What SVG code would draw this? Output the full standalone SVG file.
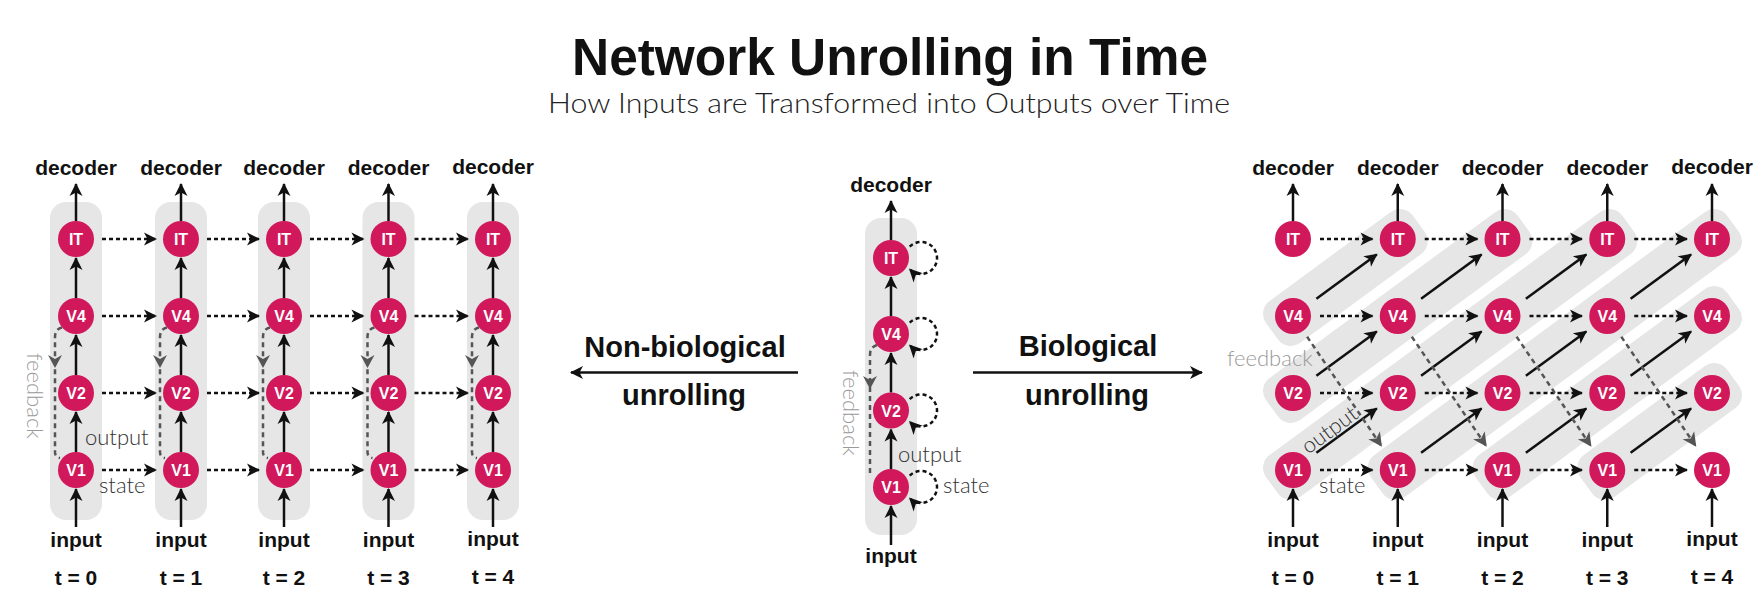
<svg xmlns="http://www.w3.org/2000/svg" width="1762" height="602" viewBox="0 0 1762 602">
<defs>
<style>
.b{font-family:"Liberation Sans",Arial,sans-serif;font-weight:700;fill:#111;text-anchor:middle}
.io{font-size:21px}
.big{font-size:29px}
.title{font-size:51px}
.sub{font-family:Lato,"Liberation Sans",sans-serif;font-weight:300;font-size:28px;fill:#222;text-anchor:middle}
.lt{font-family:Lato,"Liberation Sans",sans-serif;font-weight:300;font-size:22px;fill:#333}
.fbt{fill:#999}
.node circle{fill:#D0185B}
.node text{font-family:"Liberation Sans",Arial,sans-serif;font-weight:700;font-size:16px;fill:#fff;text-anchor:middle}
.band{fill:#E6E6E6}
.s{stroke:#111;stroke-width:2.5;fill:none;marker-end:url(#ah)}
.d{stroke:#111;stroke-width:2.5;fill:none;stroke-dasharray:4 3;marker-end:url(#ah)}
.fb{stroke:#555;stroke-width:2.5;fill:none;stroke-dasharray:5 4}
.fbm{marker-end:url(#ahg)}
</style>
<marker id="ah" viewBox="-14 -8 16 16" refX="0" refY="0" markerWidth="16" markerHeight="16" markerUnits="userSpaceOnUse" orient="auto">
<path d="M1,0 L-12,-6.5 L-8.5,0 L-12,6.5 Z" fill="#111"/>
</marker>
<marker id="ahg" viewBox="-15 -9 17 18" refX="0" refY="0" markerWidth="17" markerHeight="18" markerUnits="userSpaceOnUse" orient="auto">
<path d="M1,0 L-13,-7 L-9,0 L-13,7 Z" fill="#555"/>
</marker>
<path id="fbh" d="M0,0 L-7,-13 L0,-9 L7,-13 Z" fill="#555"/>
</defs>
<rect width="1762" height="602" fill="#fff"/>

<g id="title">
<text class="b title" x="890" y="75" textLength="636" lengthAdjust="spacingAndGlyphs">Network Unrolling in Time</text>
<text class="sub" x="889" y="113" textLength="682" lengthAdjust="spacingAndGlyphs">How Inputs are Transformed into Outputs over Time</text>
</g>

<g id="backgrounds">
<rect class="band" x="50" y="202" width="52" height="318" rx="16"/>
<rect class="band" x="155" y="202" width="52" height="318" rx="16"/>
<rect class="band" x="258" y="202" width="52" height="318" rx="16"/>
<rect class="band" x="362.5" y="202" width="52" height="318" rx="16"/>
<rect class="band" x="467" y="202" width="52" height="318" rx="16"/>
<rect class="band" x="865" y="218" width="52" height="317" rx="16"/>
<rect class="band" transform="translate(1293 316) rotate(-36.32)" x="-26" y="-26" width="182" height="52" rx="16"/>
<rect class="band" transform="translate(1293 393) rotate(-36.32)" x="-26" y="-26" width="312" height="52" rx="16"/>
<rect class="band" transform="translate(1293 470) rotate(-36.32)" x="-26" y="-26" width="442" height="52" rx="16"/>
<rect class="band" transform="translate(1397.75 470) rotate(-36.32)" x="-26" y="-26" width="442" height="52" rx="16"/>
<rect class="band" transform="translate(1502.5 470) rotate(-36.32)" x="-26" y="-26" width="312" height="52" rx="16"/>
<rect class="band" transform="translate(1607.25 470) rotate(-36.32)" x="-26" y="-26" width="182" height="52" rx="16"/>
</g>

<g id="connectors">
<path class="s" d="M76 452V412"/><path class="s" d="M76 375V335"/><path class="s" d="M76 298V258"/><path class="s" d="M76 221V184"/><path class="s" d="M76 527V489"/>
<path class="s" d="M181 452V412"/><path class="s" d="M181 375V335"/><path class="s" d="M181 298V258"/><path class="s" d="M181 221V184"/><path class="s" d="M181 527V489"/>
<path class="s" d="M284 452V412"/><path class="s" d="M284 375V335"/><path class="s" d="M284 298V258"/><path class="s" d="M284 221V184"/><path class="s" d="M284 527V489"/>
<path class="s" d="M388.5 452V412"/><path class="s" d="M388.5 375V335"/><path class="s" d="M388.5 298V258"/><path class="s" d="M388.5 221V184"/><path class="s" d="M388.5 527V489"/>
<path class="s" d="M493 452V412"/><path class="s" d="M493 375V335"/><path class="s" d="M493 298V258"/><path class="s" d="M493 221V184"/><path class="s" d="M493 527V489"/>
<path class="d" d="M102 239H156"/><path class="d" d="M207 239H259"/><path class="d" d="M310 239H363.5"/><path class="d" d="M414.5 239H468"/>
<path class="d" d="M102 316H156"/><path class="d" d="M207 316H259"/><path class="d" d="M310 316H363.5"/><path class="d" d="M414.5 316H468"/>
<path class="d" d="M102 393H156"/><path class="d" d="M207 393H259"/><path class="d" d="M310 393H363.5"/><path class="d" d="M414.5 393H468"/>
<path class="d" d="M102 470H156"/><path class="d" d="M207 470H259"/><path class="d" d="M310 470H363.5"/><path class="d" d="M414.5 470H468"/>
<path class="fb" d="M62 327.5Q55 329 55 337V452Q55 457 60 458"/><use href="#fbh" x="55" y="368"/>
<path class="fb" d="M167 327.5Q160 329 160 337V452Q160 457 165 458"/><use href="#fbh" x="160" y="368"/>
<path class="fb" d="M270 327.5Q263 329 263 337V452Q263 457 268 458"/><use href="#fbh" x="263" y="368"/>
<path class="fb" d="M374.5 327.5Q367.5 329 367.5 337V452Q367.5 457 372.5 458"/><use href="#fbh" x="367.5" y="368"/>
<path class="fb" d="M479 327.5Q472 329 472 337V452Q472 457 477 458"/><use href="#fbh" x="472" y="368"/>

<path class="s" d="M891 545V506"/><path class="s" d="M891 469V429.5"/><path class="s" d="M891 392.5V353"/><path class="s" d="M891 316V277"/><path class="s" d="M891 240V201"/>
<path class="d" d="M909.7 246.7A16 16 0 1 1 909.7 269.3"/>
<path class="d" d="M909.7 322.7A16 16 0 1 1 909.7 345.3"/>
<path class="d" d="M909.7 399.2A16 16 0 1 1 909.7 421.8"/>
<path class="d" d="M909.7 475.7A16 16 0 1 1 909.7 498.3"/>
<path class="fb" d="M877 345Q870 347 870 355V476"/><use href="#fbh" x="870" y="389"/>

<path class="s" d="M798 372.5H571"/>
<path class="s" d="M973 372.5H1202"/>

<path class="s" d="M1293 527V489"/><path class="s" d="M1293 221V184"/>
<path class="s" d="M1397.75 527V489"/><path class="s" d="M1397.75 221V184"/>
<path class="s" d="M1502.5 527V489"/><path class="s" d="M1502.5 221V184"/>
<path class="s" d="M1607.25 527V489"/><path class="s" d="M1607.25 221V184"/>
<path class="s" d="M1712 527V489"/><path class="s" d="M1712 221V184"/>
<path class="d" d="M1320 239H1372.5"/><path class="d" d="M1424.75 239H1477.5"/><path class="d" d="M1529.5 239H1582"/><path class="d" d="M1634.25 239H1687"/>
<path class="d" d="M1320 316H1372.5"/><path class="d" d="M1424.75 316H1477.5"/><path class="d" d="M1529.5 316H1582"/><path class="d" d="M1634.25 316H1687"/>
<path class="d" d="M1320 393H1372.5"/><path class="d" d="M1424.75 393H1477.5"/><path class="d" d="M1529.5 393H1582"/><path class="d" d="M1634.25 393H1687"/>
<path class="d" d="M1320 470H1372.5"/><path class="d" d="M1424.75 470H1477.5"/><path class="d" d="M1529.5 470H1582"/><path class="d" d="M1634.25 470H1687"/>
<path class="s" d="M1316.4 452.8L1376.8 408.4"/><path class="s" d="M1316.4 375.8L1376.8 331.4"/><path class="s" d="M1316.4 298.8L1376.8 254.4"/>
<path class="s" d="M1421.1 452.8L1481.6 408.4"/><path class="s" d="M1421.1 375.8L1481.6 331.4"/><path class="s" d="M1421.1 298.8L1481.6 254.4"/>
<path class="s" d="M1525.9 452.8L1586.3 408.4"/><path class="s" d="M1525.9 375.8L1586.3 331.4"/><path class="s" d="M1525.9 298.8L1586.3 254.4"/>
<path class="s" d="M1630.6 452.8L1691.1 408.4"/><path class="s" d="M1630.6 375.8L1691.1 331.4"/><path class="s" d="M1630.6 298.8L1691.1 254.4"/>
<path class="fb fbm" d="M1307.1 336.7L1381.4 446"/>
<path class="fb fbm" d="M1411.8 336.7L1486.2 446"/>
<path class="fb fbm" d="M1516.6 336.7L1590.9 446"/>
<path class="fb fbm" d="M1621.3 336.7L1695.7 446"/>
</g>

<g id="L0-IT" class="node"><circle cx="76" cy="239" r="18"/><text x="76" y="245">IT</text></g>
<g id="L0-V4" class="node"><circle cx="76" cy="316" r="18"/><text x="76" y="322">V4</text></g>
<g id="L0-V2" class="node"><circle cx="76" cy="393" r="18"/><text x="76" y="399">V2</text></g>
<g id="L0-V1" class="node"><circle cx="76" cy="470" r="18"/><text x="76" y="476">V1</text></g>
<g id="L1-IT" class="node"><circle cx="181" cy="239" r="18"/><text x="181" y="245">IT</text></g>
<g id="L1-V4" class="node"><circle cx="181" cy="316" r="18"/><text x="181" y="322">V4</text></g>
<g id="L1-V2" class="node"><circle cx="181" cy="393" r="18"/><text x="181" y="399">V2</text></g>
<g id="L1-V1" class="node"><circle cx="181" cy="470" r="18"/><text x="181" y="476">V1</text></g>
<g id="L2-IT" class="node"><circle cx="284" cy="239" r="18"/><text x="284" y="245">IT</text></g>
<g id="L2-V4" class="node"><circle cx="284" cy="316" r="18"/><text x="284" y="322">V4</text></g>
<g id="L2-V2" class="node"><circle cx="284" cy="393" r="18"/><text x="284" y="399">V2</text></g>
<g id="L2-V1" class="node"><circle cx="284" cy="470" r="18"/><text x="284" y="476">V1</text></g>
<g id="L3-IT" class="node"><circle cx="388.5" cy="239" r="18"/><text x="388.5" y="245">IT</text></g>
<g id="L3-V4" class="node"><circle cx="388.5" cy="316" r="18"/><text x="388.5" y="322">V4</text></g>
<g id="L3-V2" class="node"><circle cx="388.5" cy="393" r="18"/><text x="388.5" y="399">V2</text></g>
<g id="L3-V1" class="node"><circle cx="388.5" cy="470" r="18"/><text x="388.5" y="476">V1</text></g>
<g id="L4-IT" class="node"><circle cx="493" cy="239" r="18"/><text x="493" y="245">IT</text></g>
<g id="L4-V4" class="node"><circle cx="493" cy="316" r="18"/><text x="493" y="322">V4</text></g>
<g id="L4-V2" class="node"><circle cx="493" cy="393" r="18"/><text x="493" y="399">V2</text></g>
<g id="L4-V1" class="node"><circle cx="493" cy="470" r="18"/><text x="493" y="476">V1</text></g>

<g id="C-IT" class="node"><circle cx="891" cy="258" r="18"/><text x="891" y="264">IT</text></g>
<g id="C-V4" class="node"><circle cx="891" cy="334" r="18"/><text x="891" y="340">V4</text></g>
<g id="C-V2" class="node"><circle cx="891" cy="410.5" r="18"/><text x="891" y="416.5">V2</text></g>
<g id="C-V1" class="node"><circle cx="891" cy="487" r="18"/><text x="891" y="493">V1</text></g>

<g id="R0-IT" class="node"><circle cx="1293" cy="239" r="18"/><text x="1293" y="245">IT</text></g>
<g id="R0-V4" class="node"><circle cx="1293" cy="316" r="18"/><text x="1293" y="322">V4</text></g>
<g id="R0-V2" class="node"><circle cx="1293" cy="393" r="18"/><text x="1293" y="399">V2</text></g>
<g id="R0-V1" class="node"><circle cx="1293" cy="470" r="18"/><text x="1293" y="476">V1</text></g>
<g id="R1-IT" class="node"><circle cx="1397.75" cy="239" r="18"/><text x="1397.75" y="245">IT</text></g>
<g id="R1-V4" class="node"><circle cx="1397.75" cy="316" r="18"/><text x="1397.75" y="322">V4</text></g>
<g id="R1-V2" class="node"><circle cx="1397.75" cy="393" r="18"/><text x="1397.75" y="399">V2</text></g>
<g id="R1-V1" class="node"><circle cx="1397.75" cy="470" r="18"/><text x="1397.75" y="476">V1</text></g>
<g id="R2-IT" class="node"><circle cx="1502.5" cy="239" r="18"/><text x="1502.5" y="245">IT</text></g>
<g id="R2-V4" class="node"><circle cx="1502.5" cy="316" r="18"/><text x="1502.5" y="322">V4</text></g>
<g id="R2-V2" class="node"><circle cx="1502.5" cy="393" r="18"/><text x="1502.5" y="399">V2</text></g>
<g id="R2-V1" class="node"><circle cx="1502.5" cy="470" r="18"/><text x="1502.5" y="476">V1</text></g>
<g id="R3-IT" class="node"><circle cx="1607.25" cy="239" r="18"/><text x="1607.25" y="245">IT</text></g>
<g id="R3-V4" class="node"><circle cx="1607.25" cy="316" r="18"/><text x="1607.25" y="322">V4</text></g>
<g id="R3-V2" class="node"><circle cx="1607.25" cy="393" r="18"/><text x="1607.25" y="399">V2</text></g>
<g id="R3-V1" class="node"><circle cx="1607.25" cy="470" r="18"/><text x="1607.25" y="476">V1</text></g>
<g id="R4-IT" class="node"><circle cx="1712" cy="239" r="18"/><text x="1712" y="245">IT</text></g>
<g id="R4-V4" class="node"><circle cx="1712" cy="316" r="18"/><text x="1712" y="322">V4</text></g>
<g id="R4-V2" class="node"><circle cx="1712" cy="393" r="18"/><text x="1712" y="399">V2</text></g>
<g id="R4-V1" class="node"><circle cx="1712" cy="470" r="18"/><text x="1712" y="476">V1</text></g>

<g id="labels">
<text class="b io" x="76" y="175">decoder</text><text class="b io" x="181" y="175">decoder</text><text class="b io" x="284" y="175">decoder</text><text class="b io" x="388.5" y="175">decoder</text><text class="b io" x="493" y="174">decoder</text>
<text class="b io" x="76" y="547">input</text><text class="b io" x="181" y="547">input</text><text class="b io" x="284" y="547">input</text><text class="b io" x="388.5" y="547">input</text><text class="b io" x="493" y="546">input</text>
<text class="b io" x="76" y="585">t = 0</text><text class="b io" x="181" y="585">t = 1</text><text class="b io" x="284" y="585">t = 2</text><text class="b io" x="388.5" y="585">t = 3</text><text class="b io" x="493" y="584">t = 4</text>
<text class="lt fbt" transform="translate(27 353) rotate(90)">feedback</text>
<text class="lt" x="85" y="445">output</text>
<text class="lt" x="99" y="493">state</text>

<text class="b io" x="891" y="192">decoder</text>
<text class="b io" x="891" y="563">input</text>
<text class="lt fbt" transform="translate(843 370) rotate(90)">feedback</text>
<text class="lt" x="898" y="462">output</text>
<text class="lt" x="943" y="493">state</text>

<text class="b big" x="685" y="357">Non-biological</text>
<text class="b big" x="684" y="405">unrolling</text>
<text class="b big" x="1088" y="356">Biological</text>
<text class="b big" x="1087" y="405">unrolling</text>

<text class="b io" x="1293" y="175">decoder</text><text class="b io" x="1397.75" y="175">decoder</text><text class="b io" x="1502.5" y="175">decoder</text><text class="b io" x="1607.25" y="175">decoder</text><text class="b io" x="1712" y="174">decoder</text>
<text class="b io" x="1293" y="547">input</text><text class="b io" x="1397.75" y="547">input</text><text class="b io" x="1502.5" y="547">input</text><text class="b io" x="1607.25" y="547">input</text><text class="b io" x="1712" y="546">input</text>
<text class="b io" x="1293" y="585">t = 0</text><text class="b io" x="1397.75" y="585">t = 1</text><text class="b io" x="1502.5" y="585">t = 2</text><text class="b io" x="1607.25" y="585">t = 3</text><text class="b io" x="1712" y="584">t = 4</text>
<text class="lt fbt" x="1227" y="366">feedback</text>
<text class="lt" transform="translate(1334 436) rotate(-36.32)" text-anchor="middle">output</text>
<text class="lt" x="1319" y="493">state</text>
</g>
</svg>
